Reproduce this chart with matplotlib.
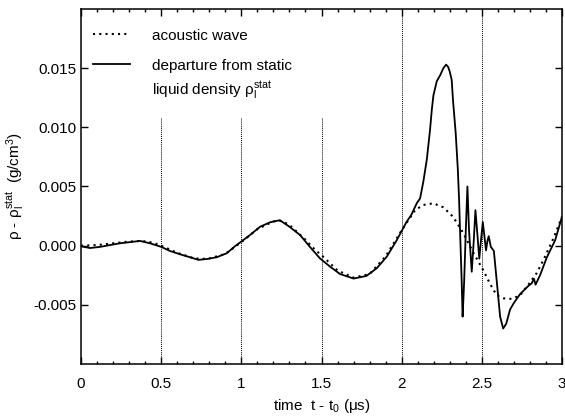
import numpy as np
import matplotlib

matplotlib.use("Agg")
import matplotlib.pyplot as plt
from matplotlib.ticker import FixedLocator, MultipleLocator, FuncFormatter

# Acoustic wave (dotted curve), time in microseconds, density in g/cm^3
wave_t = [0.0, 0.1, 0.2, 0.3, 0.38, 0.45, 0.5, 0.6, 0.7, 0.75, 0.8, 0.9,
          1.0, 1.1, 1.2, 1.25, 1.3, 1.4, 1.46, 1.5, 1.6, 1.7, 1.8, 1.9,
          2.0, 2.084, 2.135, 2.198, 2.26, 2.32, 2.385, 2.447, 2.51, 2.55,
          2.593, 2.635, 2.687, 2.738, 2.79, 2.843, 2.894, 2.946, 3.0]
wave_rho = [0.0, 0.00005, 0.0002, 0.00035, 0.0004, 0.00025, 0.0, -0.0006,
            -0.00105, -0.00112, -0.00108, -0.0007,
            0.0003, 0.0014, 0.00205, 0.0021, 0.00175, 0.0005, -0.00036, -0.0008,
            -0.0021, -0.0027, -0.0024, -0.0009,
            0.0013, 0.003, 0.00344, 0.00358, 0.00324, 0.00245, 0.00105,
            -0.0006, -0.0021, -0.0032,
            -0.0042, -0.00445, -0.0045, -0.0042, -0.0033, -0.0023, -0.00093,
            0.0006, 0.00245]

# Departure from static liquid density (solid curve)
dep_t = [0.0, 0.056, 0.12, 0.18, 0.243, 0.306, 0.368, 0.43, 0.5, 0.555,
         0.618, 0.68, 0.732, 0.784, 0.846, 0.909, 0.96, 1.0, 1.054,
         1.117, 1.18, 1.24, 1.30, 1.366, 1.43, 1.49, 1.553, 1.616, 1.70,
         1.78, 1.845, 1.907, 1.97, 2.03, 2.06, 2.094, 2.115, 2.135, 2.157,
         2.177, 2.188, 2.198, 2.219, 2.24, 2.26, 2.277, 2.29, 2.30, 2.312,
         2.32, 2.337, 2.35, 2.358, 2.364, 2.374, 2.38, 2.385, 2.39, 2.40,
         2.41, 2.42, 2.437, 2.45, 2.46, 2.472, 2.484, 2.495, 2.506, 2.516,
         2.526, 2.535, 2.543, 2.556, 2.575, 2.593, 2.614, 2.633, 2.652,
         2.676, 2.697, 2.738, 2.79, 2.81, 2.825, 2.835, 2.863, 2.905,
         2.957, 3.0]
dep_rho = [-0.00005, -0.0002, -0.0001, 0.00005, 0.0002, 0.0003, 0.0004,
           0.0002, -0.0001, -0.00045,
           -0.00073, -0.00098, -0.0012, -0.00113, -0.00098,
           -0.00064, -0.00005, 0.00035, 0.0009,
           0.0016, 0.00198, 0.00215, 0.0016, 0.0009, -0.00014, -0.00107,
           -0.00177, -0.0024, -0.00278,
           -0.00256, -0.0019, -0.00093, 0.00048, 0.002, 0.0026, 0.00358,
           0.004, 0.0054, 0.0073,
           0.0098, 0.0115, 0.0127, 0.0139, 0.0144, 0.015, 0.0153, 0.0151,
           0.0147, 0.014,
           0.0123, 0.0095, 0.0065, 0.0039, 0.0013, -0.0029, -0.006, -0.0045,
           -0.0029, 0.0013,
           0.005, 0.0013, -0.0022, 0.0005, 0.003, 0.001, -0.0011, 0.0005,
           0.002, 0.0008,
           -0.0004, 0.0004, 0.0008, -0.0001, -0.00045, -0.003, -0.006, -0.007,
           -0.0066,
           -0.0054, -0.0049, -0.0041, -0.0034, -0.0032, -0.0028, -0.0033,
           -0.0025, -0.001,
           0.00045, 0.00245]

# Dotted reference lines: positions and upper ends
marker_t = [0.5, 1.0, 1.5, 2.0, 2.5]
marker_top = [0.0108, 0.0108, 0.0108, 0.02, 0.02]

x_ticks = [0, 0.5, 1, 1.5, 2, 2.5, 3]
y_ticks = [-0.005, 0.0, 0.005, 0.010, 0.015]

FONT = "Liberation Sans"


def setup_style():
    plt.rcParams["font.family"] = FONT
    plt.rcParams["font.size"] = 11
    plt.rcParams["axes.unicode_minus"] = False
    plt.rcParams["mathtext.fontset"] = "custom"
    plt.rcParams["mathtext.rm"] = FONT
    plt.rcParams["mathtext.it"] = FONT + ":italic"


def main():
    setup_style()
    fig = plt.figure(figsize=(5.65, 4.16), dpi=100)
    ax = fig.add_axes([0.1434, 0.125, 0.8513, 0.8534])

    ax.vlines(marker_t, -0.01, marker_top, colors="black",
              linestyles=(0, (1, 1)), linewidth=0.7)

    wave, = ax.plot(wave_t, wave_rho, color="black", linewidth=1.5,
                    linestyle=(0, (1, 2)))
    dep, = ax.plot(dep_t, dep_rho, color="black", linewidth=1.3)

    ax.set_xlim(0, 3)
    ax.set_ylim(-0.01, 0.02)
    ax.xaxis.set_major_locator(FixedLocator(x_ticks))
    ax.xaxis.set_minor_locator(MultipleLocator(0.1))
    ax.xaxis.set_major_formatter(FuncFormatter(lambda v, p: "%g" % v))
    ax.yaxis.set_major_locator(FixedLocator(y_ticks))
    ax.yaxis.set_major_formatter(FuncFormatter(lambda v, p: "%.3f" % v))

    ax.tick_params(which="both", direction="in", top=True, right=True,
                   width=1.0, labelsize=11)
    ax.tick_params(which="major", length=5)
    ax.tick_params(which="minor", length=2.5)
    ax.tick_params(axis="x", pad=9)
    ax.tick_params(axis="y", pad=3.5)
    for spine in ax.spines.values():
        spine.set_linewidth(1.1)

    ax.set_xlabel("time  t - t$_0$ (\u03bcs)", fontsize=11, labelpad=5)
    ax.set_ylabel("\u03c1 - \u03c1$_\\mathrm{l}^\\mathrm{stat}$  (g/cm$^3$)",
                  fontsize=11, labelpad=4)

    ax.legend([wave, dep], ["acoustic wave", "departure from static"],
              loc="upper left", bbox_to_anchor=(0.025, 0.945),
              frameon=False, borderpad=0, borderaxespad=0,
              handlelength=2.4, handletextpad=1.45, labelspacing=1.05,
              fontsize=11)
    # second line of the solid-curve label
    ax.text(0.1477, 0.772, "liquid density \u03c1$_\\mathrm{l}^\\mathrm{stat}$",
            transform=ax.transAxes, fontsize=11, ha="left", va="center")

    fig.savefig("out.png", dpi=100)


if __name__ == "__main__":
    main()
